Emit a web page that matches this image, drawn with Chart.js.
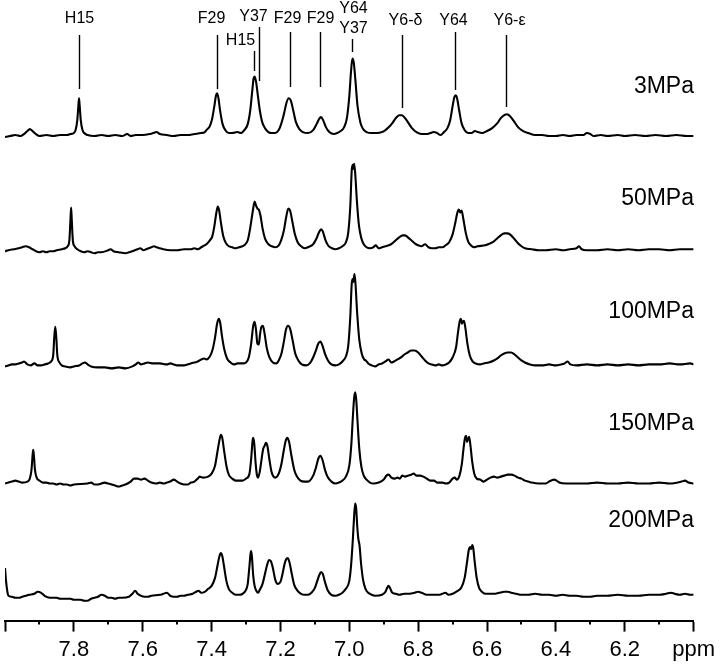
<!DOCTYPE html>
<html><head><meta charset="utf-8">
<script src="https://cdn.jsdelivr.net/npm/chart.js@4/dist/chart.umd.min.js"></script>
<style>html,body{margin:0;padding:0;background:#fff}#wrap{width:720px;height:670px}</style>
</head><body><div id="wrap"><canvas id="c" width="720" height="670"></canvas></div>
<script>
// ---- data: [ppm, intensity] ----
const pressures = ['3MPa', '50MPa', '100MPa', '150MPa', '200MPa'];

const spec3MPa = [
[8.00,-1],[7.985,0],[7.97,1],[7.955,0],[7.945,2],[7.935,5],[7.928,7],[7.92,5],[7.91,2],[7.90,0],[7.88,1],[7.86,0],[7.84,1],[7.82,1],[7.81,2],
[7.80,3],[7.795,6],[7.79,16],[7.787,30],[7.785,38],[7.783,30],[7.78,16],[7.775,6],[7.77,3],[7.76,1],[7.74,0],[7.72,1],[7.70,0],[7.68,1],[7.66,0],[7.645,2],[7.635,0],[7.62,1],[7.60,1],
[7.58,2],[7.57,3],[7.56,4],[7.55,2],[7.53,1],[7.51,0],[7.49,1],[7.47,1],[7.45,2],[7.43,3],[7.42,4],
[7.415,6],[7.405,10],[7.398,18],[7.392,30],[7.387,41],[7.384,43],[7.38,38],[7.375,25],[7.368,12],[7.36,6],[7.35,3],[7.34,3],
[7.325,4],[7.315,3],
[7.305,6],[7.295,12],[7.288,25],[7.282,45],[7.278,58],[7.275,60],[7.271,55],[7.266,42],[7.26,26],[7.253,14],[7.245,8],[7.235,4],[7.225,3],[7.215,3],
[7.205,6],[7.198,12],[7.19,22],[7.182,34],[7.176,38],[7.17,36],[7.163,26],[7.155,14],[7.145,7],[7.135,4],[7.12,3],
[7.105,6],[7.095,12],[7.088,17],[7.082,19],[7.076,16],[7.068,9],[7.058,4],[7.045,2],[7.035,3],
[7.025,5],[7.015,9],[7.007,18],[7.0,40],[6.995,65],[6.991,78],[6.987,74],[6.982,55],[6.976,30],[6.968,14],[6.96,7],[6.95,4],[6.935,3],[6.92,3],[6.905,4],[6.895,6],
[6.885,9],[6.875,13],[6.865,18],[6.855,21],[6.847,21],[6.838,18],[6.828,13],[6.818,8],[6.805,4],[6.79,2],
[6.775,2],[6.765,3],[6.755,4],[6.745,3],[6.735,1],
[6.725,4],[6.715,8],[6.707,16],[6.70,30],[6.695,39],[6.691,41],[6.687,38],[6.681,26],[6.674,13],[6.665,6],[6.655,3],[6.645,3],
[6.635,5],[6.627,4],[6.615,3],
[6.60,5],[6.585,8],[6.57,13],[6.56,18],[6.55,21],[6.542,22],[6.533,20],[6.522,15],[6.51,9],[6.495,5],[6.48,3],[6.46,1],[6.44,1],[6.42,0],[6.40,0],[6.38,1],[6.36,0],[6.34,1],
[6.32,1],[6.31,3],[6.30,2],[6.29,0],[6.27,1],[6.25,0],[6.22,1],[6.20,0],[6.17,1],[6.14,0],[6.11,1],[6.08,0],[6.05,1],[6.02,0],[6.00,0]
];

const spec50MPa = [
[8.00,-1],[7.99,0],[7.975,1],[7.96,2],[7.95,3],[7.94,4],[7.93,3],[7.92,1],[7.91,-1],[7.90,-2],[7.89,-1],[7.88,-2],[7.87,-1],[7.86,-1],[7.85,0],[7.835,1],[7.825,2],
[7.818,4],[7.813,10],[7.810,30],[7.808,43],[7.806,30],[7.803,10],[7.798,4],[7.79,1],[7.78,-1],[7.77,-2],[7.76,-1],[7.75,-2],[7.74,-3],[7.73,-2],[7.72,-2],
[7.70,0],[7.693,1],[7.685,-1],[7.67,-2],[7.65,-3],[7.64,-2],[7.63,-1],
[7.615,1],[7.607,2],[7.598,0],[7.59,1],
[7.575,3],[7.567,4],[7.56,3],[7.55,2],[7.54,1],[7.52,0],[7.50,0],[7.48,1],[7.46,1],[7.45,2],[7.44,1],[7.43,3],[7.425,4],
[7.415,6],[7.405,10],[7.398,14],[7.392,24],[7.386,38],[7.382,44],[7.378,40],[7.373,28],[7.366,14],[7.358,7],[7.35,4],[7.34,3],[7.33,2],[7.32,3],
[7.305,5],[7.295,10],[7.288,22],[7.28,40],[7.275,49],[7.271,45],[7.267,42],[7.263,41],[7.258,35],[7.252,22],[7.245,12],[7.235,6],[7.225,4],[7.215,3],[7.205,5],
[7.198,10],[7.19,20],[7.183,34],[7.177,42],[7.172,40],[7.166,30],[7.158,16],[7.15,8],[7.14,4],[7.13,2],[7.12,3],
[7.105,6],[7.095,12],[7.088,18],[7.082,21],[7.077,19],[7.07,11],[7.062,5],[7.05,2],[7.04,1],[7.03,2],
[7.02,4],[7.01,8],[7.003,18],[6.997,45],[6.993,80],[6.990,86],[6.988,82],[6.986,87],[6.983,78],[6.978,50],[6.972,25],[6.965,12],[6.958,6],[6.95,3],[6.94,2],
[6.93,3],[6.923,5],[6.915,2],[6.905,3],[6.895,4],[6.885,5],
[6.875,7],[6.865,10],[6.855,13],[6.845,15],[6.838,15],[6.83,13],[6.82,10],[6.81,7],[6.80,5],
[6.79,4],[6.78,6],[6.77,3],[6.76,2],[6.75,2],[6.74,3],[6.73,3],[6.72,5],
[6.71,8],[6.70,16],[6.692,28],[6.686,38],[6.682,41],[6.678,38],[6.674,40],[6.669,32],[6.662,18],[6.655,9],[6.647,5],[6.638,3],[6.628,4],
[6.605,5],[6.598,6],
[6.59,7],[6.58,9],[6.57,12],[6.56,15],[6.55,17],[6.54,17],[6.53,15],[6.52,11],[6.51,7],[6.50,4],[6.49,2],[6.47,1],[6.45,0],[6.43,0],[6.40,1],[6.38,0],[6.36,1],
[6.34,2],[6.333,4],[6.325,1],[6.31,0],[6.28,0],[6.25,1],[6.22,0],[6.19,1],[6.16,0],[6.13,1],[6.10,1],[6.07,0],[6.04,1],[6.00,1]
];

const spec100MPa = [
[8.00,-1],[7.99,0],[7.98,1],[7.97,1],[7.96,2],[7.95,3],[7.945,4],[7.935,1],[7.925,0],[7.915,2],[7.905,0],[7.895,0],[7.885,1],[7.875,2],
[7.866,4],[7.86,10],[7.857,28],[7.854,39],[7.851,28],[7.848,10],[7.842,3],[7.835,0],[7.825,-1],[7.81,-2],[7.80,-1],
[7.785,0],[7.775,2],[7.768,3],[7.76,1],[7.75,-1],[7.73,-2],[7.71,-2],[7.69,-3],[7.67,-2],[7.65,-3],[7.63,-1],
[7.62,1],[7.613,3],[7.605,1],[7.595,2],[7.585,3],[7.57,2],[7.55,2],[7.53,1],[7.52,2],[7.51,1],[7.50,0],[7.48,0],
[7.47,1],[7.46,2],[7.44,4],[7.43,6],[7.422,7],[7.415,6],
[7.405,9],[7.397,16],[7.39,28],[7.384,42],[7.379,47],[7.375,43],[7.37,30],[7.363,16],[7.355,7],[7.345,3],[7.335,1],[7.325,2],
[7.31,2],[7.30,3],
[7.292,8],[7.285,22],[7.279,40],[7.275,44],[7.271,36],[7.267,22],[7.263,21],[7.259,32],[7.255,39],[7.251,40],[7.246,32],[7.24,18],[7.232,8],[7.222,3],[7.212,2],
[7.205,5],[7.197,12],[7.19,24],[7.184,36],[7.178,40],[7.172,37],[7.165,26],[7.157,12],[7.148,5],[7.138,1],[7.125,0],[7.115,2],
[7.105,8],[7.097,15],[7.09,22],[7.084,24],[7.078,20],[7.07,11],[7.062,5],[7.052,1],[7.04,0],[7.03,1],
[7.02,4],[7.01,9],[7.003,20],[6.997,50],[6.993,82],[6.990,87],[6.988,84],[6.985,92],[6.982,82],[6.977,52],[6.971,26],[6.964,12],[6.957,6],
[6.952,5],[6.945,2],[6.935,0],[6.925,-1],[6.915,1],[6.905,2],
[6.895,4],[6.886,6],[6.878,3],[6.87,4],
[6.86,6],[6.85,8],[6.84,11],[6.83,13],[6.82,15],[6.81,15],[6.80,13],[6.79,9],[6.78,5],[6.77,2],[6.76,1],[6.75,0],[6.74,1],[6.73,0],[6.72,1],[6.71,3],
[6.70,8],[6.69,18],[6.684,34],[6.679,45],[6.676,47],[6.673,42],[6.670,44],[6.667,45],[6.663,38],[6.657,22],[6.65,10],[6.642,4],[6.633,2],[6.62,1],[6.61,2],
[6.595,3],[6.58,5],[6.57,7],[6.56,10],[6.55,12],[6.54,13],[6.53,13],[6.52,11],[6.51,8],[6.50,5],[6.49,3],[6.475,1],[6.46,0],[6.44,0],[6.42,1],[6.40,0],[6.385,1],
[6.375,2],[6.366,4],[6.358,1],[6.34,0],[6.31,1],[6.28,0],[6.25,1],[6.22,0],[6.19,1],[6.16,0],[6.13,1],[6.10,1],[6.07,2],[6.04,1],[6.01,2],[6.00,1]
];

const spec150MPa = [
[8.00,0],[7.99,1],[7.98,2],[7.97,3],[7.96,2],[7.95,1],
[7.935,2],[7.928,5],[7.923,14],[7.92,28],[7.918,34],[7.916,28],[7.913,14],[7.908,6],[7.90,3],[7.89,1],[7.88,1],[7.87,0],[7.86,0],[7.85,-1],[7.84,0],[7.83,-1],[7.82,-1],[7.81,-2],[7.80,-1],
[7.76,0],[7.75,1],[7.74,-1],[7.73,-1],
[7.71,1],[7.70,0],[7.69,-1],[7.68,-2],[7.67,-3],[7.66,-2],[7.65,-1],
[7.635,2],[7.625,5],[7.615,5],[7.605,4],[7.595,5],[7.585,3],[7.575,1],[7.56,0],[7.55,1],[7.54,0],[7.53,1],
[7.52,2],[7.51,4],[7.50,2],[7.49,0],[7.48,-1],[7.47,-1],[7.46,1],[7.45,2],
[7.44,5],[7.435,7],[7.425,6],
[7.41,7],[7.40,10],[7.39,18],[7.383,32],[7.377,44],[7.373,49],[7.369,46],[7.364,34],[7.357,18],[7.35,9],[7.34,5],[7.33,3],[7.32,3],[7.31,3],[7.30,5],
[7.29,10],[7.285,25],[7.281,43],[7.279,46],[7.276,40],[7.272,20],[7.268,8],[7.265,6],
[7.26,12],[7.255,24],[7.25,35],[7.246,38],[7.242,41],[7.238,38],[7.232,24],[7.226,12],[7.22,7],[7.215,6],
[7.205,10],[7.197,20],[7.19,34],[7.184,44],[7.18,46],[7.175,42],[7.168,28],[7.16,14],[7.152,7],[7.142,3],[7.13,2],[7.12,2],
[7.105,8],[7.097,16],[7.09,25],[7.084,28],[7.078,24],[7.07,13],[7.062,6],[7.052,2],[7.04,0],[7.03,1],
[7.02,3],[7.01,7],[7.0,18],[6.994,40],[6.99,65],[6.986,86],[6.983,92],[6.98,85],[6.976,62],[6.971,35],[6.965,17],[6.958,8],[6.95,4],[6.94,1],[6.93,0],
[6.915,1],[6.90,4],[6.892,8],[6.886,9],[6.878,6],[6.868,5],[6.86,6],[6.853,5],[6.846,8],[6.838,7],[6.83,8],[6.82,9],[6.813,10],[6.805,8],[6.795,8],[6.785,7],[6.775,5],[6.765,3],[6.754,3],[6.745,1],[6.73,1],[6.72,0],[6.71,1],[6.70,5],[6.694,6],[6.688,4],
[6.68,8],[6.673,20],[6.668,36],[6.664,46],[6.661,48],[6.658,42],[6.655,45],[6.652,47],[6.648,38],[6.643,22],[6.637,10],[6.63,5],[6.62,4],[6.61,2],
[6.60,4],[6.59,6],[6.58,7],[6.57,6],
[6.56,7],[6.55,8],[6.54,9],[6.53,9],[6.52,8],[6.51,6],[6.50,5],[6.49,3],[6.48,2],[6.47,1],[6.45,0],[6.43,0],[6.42,2],
[6.405,4],[6.398,3],[6.39,1],[6.37,0],[6.34,0],[6.31,0],[6.28,1],[6.25,0],[6.22,0],[6.19,1],[6.16,0],[6.13,0],[6.10,1],[6.07,0],[6.035,2],[6.025,3],[6.015,1],[6.00,0]
];

const spec200MPa = [
[8.00,28],[7.997,15],[7.993,4],[7.99,0],[7.98,-1],[7.97,-2],[7.96,-2],[7.95,-1],[7.94,0],
[7.93,1],[7.915,2],[7.905,4],[7.895,3],[7.885,0],[7.87,-2],[7.86,-2],[7.85,-2],[7.84,-3],[7.83,-3],[7.81,-3],[7.80,-4],
[7.78,-4],[7.77,-5],[7.76,-5],[7.75,-3],
[7.73,-1],[7.72,1],[7.71,0],[7.70,-2],[7.69,-2],[7.68,-3],[7.67,-2],[7.66,-2],
[7.64,-1],[7.63,2],[7.622,5],[7.615,2],[7.605,0],[7.595,-1],[7.585,-1],[7.575,0],
[7.55,1],[7.54,2],[7.53,3],[7.52,0],[7.51,-1],[7.50,-1],[7.49,0],[7.48,0],[7.47,1],
[7.455,2],[7.445,4],[7.438,5],[7.43,3],[7.42,4],
[7.41,7],[7.40,10],[7.39,18],[7.383,30],[7.377,40],[7.373,43],[7.369,40],[7.364,30],[7.357,15],[7.35,7],[7.34,3],[7.33,1],[7.32,1],[7.31,2],
[7.30,6],[7.295,12],[7.29,30],[7.287,42],[7.285,45],[7.283,40],[7.279,20],[7.275,10],[7.27,5],[7.265,3],
[7.26,6],[7.252,12],[7.245,22],[7.238,32],[7.233,36],[7.228,35],[7.222,28],[7.215,16],[7.208,12],
[7.20,14],[7.194,22],[7.188,32],[7.183,37],[7.179,38],[7.174,34],[7.167,22],[7.16,11],[7.15,5],[7.14,2],[7.13,1],[7.12,1],[7.11,3],
[7.10,8],[7.093,15],[7.087,21],[7.082,24],[7.077,22],[7.07,13],[7.062,5],[7.052,1],[7.04,0],[7.03,1],
[7.02,3],[7.01,7],[7.0,15],[6.995,30],[6.99,55],[6.986,80],[6.983,93],[6.980,88],[6.977,70],[6.974,58],[6.97,50],[6.966,33],[6.96,16],[6.953,7],[6.945,3],[6.935,1],[6.925,0],
[6.905,1],[6.895,4],[6.89,8],[6.886,10],[6.882,8],[6.875,3],[6.865,2],[6.855,1],
[6.84,2],[6.825,2],[6.81,3],[6.80,4],[6.79,3],[6.775,1],[6.76,1],
[6.74,1],[6.73,2],[6.721,3],[6.712,1],[6.70,2],[6.69,4],
[6.675,8],[6.665,18],[6.658,34],[6.653,46],[6.649,49],[6.646,47],[6.643,51],[6.64,48],[6.636,35],[6.63,18],[6.623,8],[6.615,4],[6.605,2],[6.595,2],
[6.58,2],[6.565,3],[6.55,4],[6.54,4],[6.53,3],[6.515,2],[6.50,1],[6.48,1],[6.46,2],[6.44,1],[6.42,1],[6.40,0],[6.38,1],[6.36,0],[6.34,0],[6.32,-1],[6.30,-1],[6.28,0],[6.25,0],[6.22,1],[6.19,0],
[6.16,0],[6.13,1],[6.10,1],[6.08,2],[6.066,3],[6.055,2],[6.04,1],[6.025,2],[6.01,1],[6.00,1]
];

const spectra = [spec3MPa, spec50MPa, spec100MPa, spec150MPa, spec200MPa];

// x axis tick labels
const tickValues = [7.8, 7.6, 7.4, 7.2, 7.0, 6.8, 6.6, 6.4, 6.2];
const tickLabels = ['7.8', '7.6', '7.4', '7.2', '7.0', '6.8', '6.6', '6.4', '6.2'];
const unitLabel = 'ppm';

// peak assignments (top trace)
const peakPpm   = [7.786, 7.385, 7.276, 7.261, 7.171, 7.085, 6.991, 6.846, 6.692, 6.545];
const peakNames = [['H15'], ['F29'], ['H15'], ['Y37'], ['F29'], ['F29'], ['Y64', 'Y37'], ['Y6-δ'], ['Y64'], ['Y6-ε']];

// ---- layout (pixels) ----
const CHART_TOP = 0, CHART_BOTTOM = 625;
const baselinePx = [137, 252, 368, 487, 600];
const pressureLabelY = [87, 199, 312, 424, 521];
const pressureLabelRight = 694;
const MAJOR_TICK = 11, MINOR_TICK = 4;
// per annotation: label dx, label y (first line), line y1, line y2
const annotLayout = [
  [0, 19, 35, 89], [-6, 19, 35, 89], [-14, 41, 51, 71], [-6, 17, 27, 81], [-3, 19, 32, 87],
  [0, 19, 32, 87], [1, 9, 39, 52], [3, 21, 35, 108], [-2, 21, 32, 90], [3, 21, 35, 107]
];

Chart.defaults.font.family = "'Liberation Sans', Arial, Helvetica, sans-serif";
Chart.defaults.color = '#000';

const yScales = {};
spectra.forEach((s, i) => {
  yScales['y' + i] = {
    type: 'linear', display: false,
    min: baselinePx[i] - CHART_BOTTOM,
    max: baselinePx[i] - CHART_TOP
  };
});

const isMinor = (v) => Math.round(v * 10) % 2 !== 0;
const labelFor = (v) => {
  const k = Math.round(v * 10);
  if (k === 60) return unitLabel;
  const idx = tickValues.findIndex(t => Math.round(t * 10) === k);
  return idx >= 0 ? tickLabels[idx] : '';
};

const annotPlugin = {
  id: 'annot',
  afterDraw(chart) {
    const ctx = chart.ctx, xs = chart.scales.x;
    ctx.save();
    ctx.fillStyle = '#000';
    ctx.strokeStyle = '#000';
    // minor ticks (short) at the odd tenths
    ctx.lineWidth = 2;
    const yAxis = chart.chartArea.bottom;
    xs.ticks.forEach(t => {
      if (!isMinor(t.value)) return;
      const x = Math.round(xs.getPixelForValue(t.value));
      ctx.beginPath(); ctx.moveTo(x, yAxis); ctx.lineTo(x, yAxis + MINOR_TICK); ctx.stroke();
    });
    // peak assignment lines + labels
    ctx.lineWidth = 1.4;
    ctx.font = "16px 'Liberation Sans', Arial, sans-serif";
    ctx.textAlign = 'center';
    ctx.textBaseline = 'middle';
    peakPpm.forEach((p, i) => {
      const [dx, ly, y1, y2] = annotLayout[i];
      const x = Math.round(xs.getPixelForValue(p)) + 0.5;
      ctx.beginPath(); ctx.moveTo(x, y1); ctx.lineTo(x, y2); ctx.stroke();
      peakNames[i].forEach((t, j) => ctx.fillText(t, x + dx, ly + j * 20));
    });
    // pressure labels
    ctx.font = "23px 'Liberation Sans', Arial, sans-serif";
    ctx.textAlign = 'right';
    pressures.forEach((t, i) => ctx.fillText(t, pressureLabelRight, pressureLabelY[i]));
    ctx.restore();
  }
};

new Chart(document.getElementById('c'), {
  type: 'line',
  data: {
    datasets: spectra.map((s, i) => ({
      label: pressures[i],
      data: s.map(([x, y]) => ({ x, y })),
      yAxisID: 'y' + i,
      borderColor: '#000',
      borderWidth: 2.1,
      pointRadius: 0,
      fill: false,
      cubicInterpolationMode: 'monotone'
    }))
  },
  options: {
    responsive: false,
    animation: false,
    devicePixelRatio: 1,
    layout: { padding: { left: 3, right: 0, top: CHART_TOP, bottom: 2 } },
    plugins: { legend: { display: false }, tooltip: { enabled: false }, title: { display: false } },
    scales: Object.assign({
      x: {
        type: 'linear', reverse: true, min: 6.0, max: 8.0,
        border: { display: true, color: '#000', width: 2 },
        grid: {
          drawOnChartArea: false, drawTicks: true, tickLength: MAJOR_TICK, tickWidth: 2,
          tickColor: (c) => (isMinor(c.tick.value) ? 'rgba(0,0,0,0)' : '#000')
        },
        ticks: {
          stepSize: 0.1, autoSkip: false, maxRotation: 0, minRotation: 0, padding: 5,
          font: { size: 22 }, color: '#000',
          callback: (v) => labelFor(v)
        }
      }
    }, yScales)
  },
  plugins: [annotPlugin]
});
</script>
</body></html>
